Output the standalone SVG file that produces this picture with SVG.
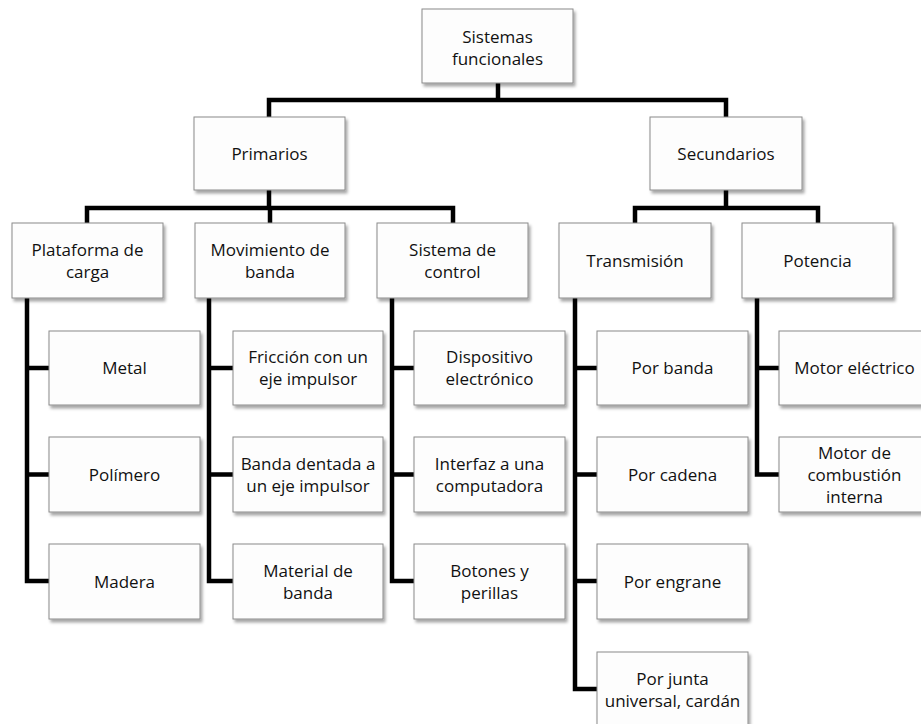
<svg xmlns="http://www.w3.org/2000/svg" width="921" height="724" viewBox="0 0 921 724">
<defs>
<filter id="sh" x="-10%" y="-10%" width="125%" height="130%">
<feDropShadow dx="2" dy="3" stdDeviation="1.6" flood-color="#000" flood-opacity="0.35"/>
</filter>
<style>
.box rect{fill:#fdfdfd;stroke:#8a8a8a;stroke-width:1;filter:url(#sh)}
.box text{font-family:"Open Sans","Noto Sans",sans-serif;font-size:17px;fill:#111;text-anchor:middle}
.conn path{fill:none;stroke:#000;stroke-width:4.5;stroke-linejoin:miter;stroke-linecap:butt}
</style>
</defs>
<rect width="921" height="724" fill="#fff"/>
<g class="conn" id="connectors">
<path d="M498,83 V100"/>
<path d="M269,117 V100 H726 V117"/>
<path d="M269,190 V208"/>
<path d="M87,223 V208 H453 V223"/>
<path d="M270,208 V223"/>
<path d="M726,190 V208"/>
<path d="M635,223 V208 H818 V223"/>
<path d="M27,298 V581 H49"/>
<path d="M27,368 H49 M27,474.5 H49"/>
<path d="M209,298 V581 H233"/>
<path d="M209,368 H233 M209,474.5 H233"/>
<path d="M392,298 V581 H414"/>
<path d="M392,368 H414 M392,474.5 H414"/>
<path d="M575,298 V689 H597"/>
<path d="M575,368 H597 M575,474.5 H597 M575,581 H597"/>
<path d="M757,298 V474.5 H779"/>
<path d="M757,368 H779"/>
</g>
<g class="box" id="n-sistemas"><rect x="422" y="9" width="151" height="74"/><text x="497.5" y="43">Sistemas</text><text x="497.5" y="65">funcionales</text></g>
<g class="box" id="n-primarios"><rect x="194" y="117" width="151" height="73"/><text x="269.5" y="159.5">Primarios</text></g>
<g class="box" id="n-secundarios"><rect x="650" y="117" width="152" height="73"/><text x="726" y="159.5">Secundarios</text></g>
<g class="box" id="n-plataforma"><rect x="12" y="223" width="151" height="75"/><text x="87.5" y="255.5">Plataforma de</text><text x="87.5" y="277.5">carga</text></g>
<g class="box" id="n-movimiento"><rect x="195" y="223" width="150" height="75"/><text x="270" y="255.5">Movimiento de</text><text x="270" y="277.5">banda</text></g>
<g class="box" id="n-control"><rect x="377" y="223" width="151" height="75"/><text x="452.5" y="255.5">Sistema de</text><text x="452.5" y="277.5">control</text></g>
<g class="box" id="n-transmision"><rect x="559" y="223" width="152" height="75"/><text x="635" y="266.5">Transmisión</text></g>
<g class="box" id="n-potencia"><rect x="742" y="223" width="151" height="75"/><text x="817.5" y="266.5">Potencia</text></g>
<g class="box" id="n-metal"><rect x="49" y="331" width="151" height="74"/><text x="124.5" y="374">Metal</text></g>
<g class="box" id="n-polimero"><rect x="49" y="437" width="151" height="75"/><text x="124.5" y="480.5">Polímero</text></g>
<g class="box" id="n-madera"><rect x="49" y="544" width="151" height="75"/><text x="124.5" y="587.5">Madera</text></g>
<g class="box" id="n-friccion"><rect x="233" y="331" width="150" height="74"/><text x="308" y="363">Fricción con un</text><text x="308" y="385">eje impulsor</text></g>
<g class="box" id="n-dentada"><rect x="233" y="437" width="150" height="75"/><text x="308" y="469.5">Banda dentada a</text><text x="308" y="491.5">un eje impulsor</text></g>
<g class="box" id="n-material"><rect x="233" y="544" width="150" height="75"/><text x="308" y="576.5">Material de</text><text x="308" y="598.5">banda</text></g>
<g class="box" id="n-dispositivo"><rect x="414" y="331" width="151" height="74"/><text x="489.5" y="363">Dispositivo</text><text x="489.5" y="385">electrónico</text></g>
<g class="box" id="n-interfaz"><rect x="414" y="437" width="151" height="75"/><text x="489.5" y="469.5">Interfaz a una</text><text x="489.5" y="491.5">computadora</text></g>
<g class="box" id="n-botones"><rect x="414" y="544" width="151" height="75"/><text x="489.5" y="576.5">Botones y</text><text x="489.5" y="598.5">perillas</text></g>
<g class="box" id="n-porbanda"><rect x="597" y="331" width="151" height="74"/><text x="672.5" y="374">Por banda</text></g>
<g class="box" id="n-porcadena"><rect x="597" y="437" width="151" height="75"/><text x="672.5" y="480.5">Por cadena</text></g>
<g class="box" id="n-porengrane"><rect x="597" y="544" width="151" height="75"/><text x="672.5" y="587.5">Por engrane</text></g>
<g class="box" id="n-porjunta"><rect x="597" y="652" width="151" height="75"/><text x="672.5" y="684.5">Por junta</text><text x="672.5" y="706.5">universal, cardán</text></g>
<g class="box" id="n-motorelectrico"><rect x="779" y="331" width="151" height="74"/><text x="854.5" y="374">Motor eléctrico</text></g>
<g class="box" id="n-combustion"><rect x="779" y="437" width="151" height="75"/><text x="854.5" y="458.5">Motor de</text><text x="854.5" y="480.5">combustión</text><text x="854.5" y="502.5">interna</text></g>
</svg>
